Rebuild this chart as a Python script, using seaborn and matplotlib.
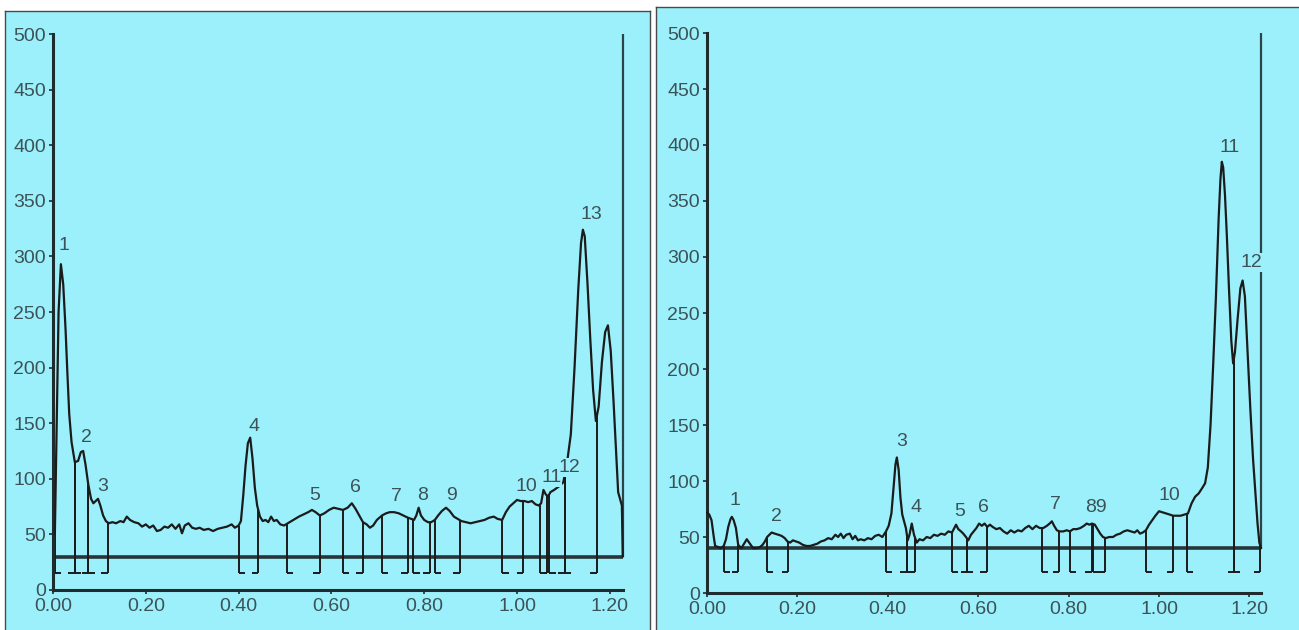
import numpy as np
import pandas as pd
import seaborn as sns
import matplotlib
matplotlib.use("Agg")
import matplotlib.pyplot as plt

# ---- left track (scan 1) ----
left_rf = [0.004, 0.008, 0.012, 0.017, 0.022, 0.027, 0.031, 0.035, 0.040, 0.047, 0.054, 0.060,
           0.065, 0.070, 0.076, 0.082, 0.087, 0.092, 0.097, 0.102, 0.108, 0.114, 0.120, 0.128,
           0.136, 0.145, 0.152, 0.159, 0.166, 0.175, 0.184, 0.192, 0.200, 0.208, 0.216, 0.224,
           0.232, 0.240, 0.248, 0.256, 0.264, 0.272, 0.278, 0.284, 0.292, 0.300, 0.308, 0.316,
           0.325, 0.335, 0.345, 0.355, 0.365, 0.375, 0.385, 0.392, 0.400, 0.405, 0.410, 0.415,
           0.420, 0.425, 0.430, 0.435, 0.440, 0.446, 0.452, 0.458, 0.464, 0.470, 0.476, 0.482,
           0.490, 0.498, 0.506, 0.514, 0.522, 0.530, 0.540, 0.550, 0.558, 0.566, 0.575, 0.585,
           0.595, 0.605, 0.615, 0.625, 0.635, 0.644, 0.652, 0.660, 0.668, 0.676, 0.683, 0.690,
           0.698, 0.709, 0.718, 0.726, 0.735, 0.745, 0.755, 0.765, 0.772, 0.778, 0.783, 0.788,
           0.793, 0.800, 0.808, 0.815, 0.823, 0.830, 0.838, 0.847, 0.855, 0.864, 0.872, 0.880,
           0.890, 0.900, 0.910, 0.920, 0.930, 0.940, 0.950, 0.958, 0.968, 0.976, 0.984, 0.992,
           1.000, 1.008, 1.016, 1.024, 1.032, 1.040, 1.047, 1.052, 1.057, 1.062, 1.067, 1.072,
           1.080, 1.090, 1.100, 1.108, 1.116, 1.124, 1.132, 1.138, 1.142, 1.146, 1.152, 1.158,
           1.164, 1.170, 1.176, 1.183, 1.190, 1.196, 1.202, 1.208, 1.214, 1.218, 1.222, 1.226,
           1.228]
left_au = [50, 150, 250, 293, 275, 235, 195, 158, 133, 115, 116, 124,
           125, 113, 95, 82, 78, 80, 82, 76, 67, 62, 60, 61,
           60, 62, 61, 66, 63, 61, 60, 57, 59, 56, 58, 53,
           54, 57, 56, 59, 55, 59, 51, 58, 60, 56, 55, 56,
           54, 55, 53, 55, 56, 57, 59, 56, 58, 62, 85, 112,
           132, 137, 118, 92, 76, 66, 62, 63, 61, 66, 62, 63,
           59, 58, 60, 62, 64, 66, 68, 70, 72, 70, 67, 69,
           72, 74, 73, 72, 74, 78, 73, 67, 61, 59, 56, 58,
           63, 67, 69, 70, 70, 69, 67, 65, 64, 63, 67, 74,
           67, 63, 61, 61, 63, 67, 71, 74, 71, 66, 64, 62,
           61, 60, 61, 62, 63, 65, 66, 64, 63, 70, 75, 78,
           81, 80, 80, 79, 80, 77, 76, 78, 90, 86, 84, 88,
           90, 93, 97, 115, 140, 200, 270, 312, 324, 318, 275, 225,
           180, 152, 165, 205, 232, 238, 215, 170, 120, 88, 82, 76,
           30]
left_start = [0.004, 0.047, 0.076, 0.400, 0.504, 0.625, 0.709, 0.776, 0.823, 0.968, 1.050, 1.069, 1.103]
left_end = [0.047, 0.076, 0.118, 0.442, 0.575, 0.668, 0.765, 0.812, 0.877, 1.013, 1.064, 1.103, 1.172]
left_names = ["1", "2", "3", "4", "5", "6", "7", "8", "9", "10", "11", "12", "13"]
left_lab_rf = [0.024, 0.071, 0.107, 0.433, 0.565, 0.651, 0.741, 0.797, 0.859, 1.021, 1.074, 1.113, 1.161]
left_lab_au = [310, 137, 93, 147, 85, 92, 84, 85, 85, 93, 101, 110, 338]
left_base = 30
left_mark = 15
left_front = 1.228

# ---- right track (scan 2) ----
right_rf = [0.000, 0.005, 0.010, 0.015, 0.018, 0.025, 0.030, 0.037, 0.042, 0.047, 0.052, 0.055,
            0.059, 0.064, 0.069, 0.076, 0.082, 0.088, 0.095, 0.102, 0.110, 0.117, 0.123, 0.128,
            0.133, 0.138, 0.143, 0.150, 0.158, 0.165, 0.172, 0.178, 0.184, 0.190, 0.197, 0.204,
            0.212, 0.220, 0.228, 0.236, 0.244, 0.252, 0.260, 0.268, 0.276, 0.284, 0.290, 0.296,
            0.302, 0.308, 0.316, 0.322, 0.328, 0.334, 0.340, 0.348, 0.356, 0.364, 0.372, 0.380,
            0.388, 0.396, 0.402, 0.408, 0.413, 0.417, 0.420, 0.424, 0.428, 0.432, 0.436, 0.440,
            0.444, 0.448, 0.453, 0.458, 0.464, 0.470, 0.478, 0.486, 0.494, 0.502, 0.510, 0.518,
            0.526, 0.534, 0.542, 0.547, 0.551, 0.556, 0.562, 0.567, 0.573, 0.578, 0.584, 0.590,
            0.596, 0.602, 0.608, 0.614, 0.620, 0.626, 0.632, 0.640, 0.648, 0.656, 0.664, 0.672,
            0.680, 0.688, 0.696, 0.704, 0.712, 0.720, 0.728, 0.736, 0.744, 0.752, 0.758, 0.763,
            0.768, 0.774, 0.780, 0.788, 0.796, 0.803, 0.810, 0.818, 0.826, 0.834, 0.840, 0.846,
            0.852, 0.858, 0.864, 0.870, 0.876, 0.882, 0.890, 0.898, 0.906, 0.914, 0.922, 0.930,
            0.938, 0.946, 0.952, 0.958, 0.964, 0.971, 0.978, 0.985, 0.992, 1.000, 1.008, 1.016,
            1.024, 1.031, 1.040, 1.048, 1.056, 1.064, 1.072, 1.080, 1.088, 1.096, 1.102, 1.108,
            1.114, 1.120, 1.126, 1.132, 1.136, 1.139, 1.142, 1.146, 1.150, 1.155, 1.160, 1.164,
            1.168, 1.174, 1.180, 1.185, 1.190, 1.196, 1.202, 1.208, 1.214, 1.218, 1.222, 1.226]
right_au = [72, 70, 65, 50, 42, 41, 40, 42, 48, 59, 66, 68,
            65, 58, 43, 40, 44, 48, 44, 40, 40, 41, 43, 46,
            50, 52, 54, 53, 52, 51, 49, 46, 45, 47, 46, 45,
            43, 42, 42, 43, 44, 46, 47, 49, 48, 52, 50, 53,
            49, 52, 53, 48, 51, 47, 48, 47, 49, 48, 51, 52,
            50, 55, 60, 71, 95, 115, 121, 110, 85, 70, 64, 58,
            47, 52, 62, 52, 45, 48, 47, 50, 49, 52, 51, 53,
            52, 55, 54, 58, 61, 57, 55, 53, 50, 47, 52, 55,
            58, 62, 60, 62, 59, 61, 59, 57, 58, 55, 53, 56,
            54, 56, 55, 58, 60, 57, 60, 58, 58, 60, 62, 64,
            60, 56, 55, 55, 56, 55, 57, 57, 58, 60, 62, 61,
            62, 61, 57, 53, 50, 49, 50, 50, 52, 53, 55, 56,
            55, 54, 56, 53, 54, 56, 61, 65, 69, 73, 72, 71,
            70, 69, 69, 69, 70, 71, 80, 86, 89, 94, 98, 112,
            150, 205, 265, 335, 370, 385, 380, 355, 320, 270, 225, 205,
            215, 245, 272, 279, 265, 215, 165, 120, 85, 62, 45, 40]
right_start = [0.037, 0.133, 0.396, 0.442, 0.542, 0.575, 0.741, 0.803, 0.854, 0.971, 1.062, 1.166]
right_end = [0.069, 0.180, 0.442, 0.460, 0.575, 0.619, 0.779, 0.851, 0.880, 1.031, 1.166, 1.224]
right_names = ["1", "2", "3", "4", "5", "6", "7", "89", "10", "11", "12"]
right_lab_rf = [0.062, 0.154, 0.431, 0.462, 0.560, 0.611, 0.770, 0.861, 1.024, 1.157, 1.205]
right_lab_au = [83, 68, 135, 76, 73, 76, 79, 76, 87, 398, 295]
right_base = 40
right_mark = 19
right_front = 1.226

y_ticks = [0, 50, 100, 150, 200, 250, 300, 350, 400, 450, 500]
x_ticks = [0.0, 0.2, 0.4, 0.6, 0.8, 1.0, 1.2]

BG = "#9cf0fb"
INK = "#1b1b1b"
TXT = "#3b5357"

sns.set_style("ticks")
plt.rcParams["font.family"] = ["Liberation Sans Narrow", "Liberation Sans", "DejaVu Sans"]

W, H = 1299, 630
fig = plt.figure(figsize=(W / 100, H / 100), dpi=100)
fig.patch.set_facecolor("white")


def px_axes(x0, y0, x1, y1, **kw):
    # rectangle given in pixels (top-left origin)
    return fig.add_axes([x0 / W, 1 - y1 / H, (x1 - x0) / W, (y1 - y0) / H], **kw)


def draw_panel(frame_box, ax_box, xlim, ylim, rf, au, starts, ends, names, lab_rf, lab_au,
               base, mark, front):
    fr = px_axes(*frame_box, facecolor=BG)
    fr.set_xticks([])
    fr.set_yticks([])
    for s in fr.spines.values():
        s.set_color("#4a4a4a")
        s.set_linewidth(1.0)

    ax = px_axes(*ax_box, facecolor="none")
    df = pd.DataFrame({"rf": rf, "au": au})
    sns.lineplot(data=df, x="rf", y="au", sort=False, estimator=None,
                 color=INK, lw=1.6, ax=ax, zorder=3)

    # baseline
    ax.hlines(base, 0, front, color="#263638", lw=2.6, zorder=2)
    # peak boundaries
    w = 0.014
    for s, e in zip(starts, ends):
        for xb in (s, e):
            ax.vlines(xb, mark, np.interp(xb, rf, au), color=INK, lw=1.4, zorder=2)
        ax.hlines(mark, s, s + w, color=INK, lw=1.4, zorder=2)
        ax.hlines(mark, e - w, e, color=INK, lw=1.4, zorder=2)
    # solvent front line
    ax.vlines(front, base, 500, color="#2e4346", lw=1.6, zorder=2)

    for n, xl, yl in zip(names, lab_rf, lab_au):
        ax.text(xl, yl, n, ha="center", va="center", fontsize=14, color=TXT, zorder=4,
                bbox=dict(boxstyle="square,pad=0.05", fc=BG, ec="none"))

    ax.set_xlim(*xlim)
    ax.set_ylim(*ylim)
    ax.set_xticks(x_ticks)
    ax.set_xticklabels([f"{v:.2f}" for v in x_ticks])
    ax.set_yticks(y_ticks)
    ax.set_yticklabels([str(v) for v in y_ticks])
    ax.set_xlabel("")
    ax.set_ylabel("")
    sns.despine(ax=ax)
    ax.spines["left"].set_bounds(0, 500)
    ax.spines["bottom"].set_bounds(0, front)
    ax.spines["left"].set_position(("data", 0))
    ax.spines["bottom"].set_position(("data", 0))
    for sp in ("left", "bottom"):
        ax.spines[sp].set_linewidth(2.2)
        ax.spines[sp].set_color("#1f2c2e")
    ax.tick_params(axis="both", direction="out", length=3, width=1.2, color="#1f2c2e",
                   labelsize=14, labelcolor=TXT, pad=2)
    ax.tick_params(axis="x", pad=3)
    return ax


# left: 0 at px 53, 464 px per unit; y 0 at py 590, 1.112 px per unit
draw_panel((5, 11, 650, 640), (30, 15, 645, 625),
           ((30 - 53) / 464, (645 - 53) / 464), ((590 - 625) / 1.112, (590 - 15) / 1.112),
           left_rf, left_au, left_start, left_end, left_names, left_lab_rf, left_lab_au,
           left_base, left_mark, left_front)

# right: 0 at px 707, 452 px per unit; y 0 at py 593, 1.12 px per unit
draw_panel((656, 7, 1305, 640), (680, 12, 1295, 625),
           ((680 - 707) / 452, (1295 - 707) / 452), ((593 - 625) / 1.12, (593 - 12) / 1.12),
           right_rf, right_au, right_start, right_end, right_names, right_lab_rf, right_lab_au,
           right_base, right_mark, right_front)

fig.savefig("out.png", dpi=100, facecolor="white")
